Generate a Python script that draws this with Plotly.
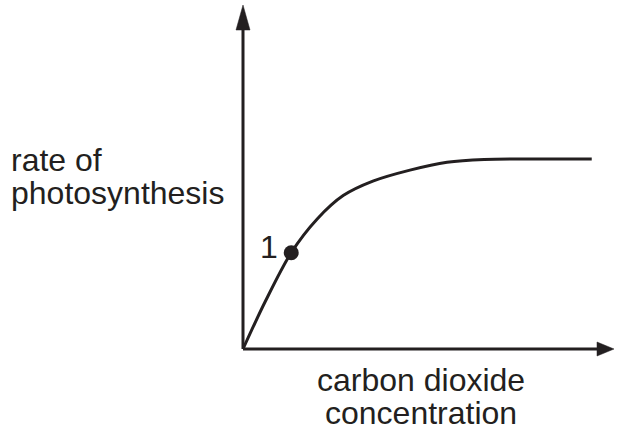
import plotly.graph_objects as go

# Data (arbitrary units: x = CO2 concentration, y = rate of photosynthesis)
co2 = [0, 6, 13, 20, 27, 35, 45, 55, 65, 94]
rate = [0, 13.8, 28, 37.8, 44.6, 48.8, 52.0, 54.3, 55.1, 55.2]
point_x = [13]
point_y = [28]
point_label = ["1"]

x_title = ["carbon dioxide", "concentration"]
y_title = ["rate of", "photosynthesis"]

INK = "#231f20"
W, H = 618, 434
L, R, T, B = 243, 4, 5, 85
pw, ph = W - L - R, H - T - B


def px_x(p):
    return (p - L) / pw


def px_y(p):
    return (H - B - p) / ph


FONT = dict(family="Liberation Sans, Arial, sans-serif", size=32, color=INK)

fig = go.Figure()
fig.add_trace(go.Scatter(x=co2, y=rate, mode="lines",
                         line=dict(color=INK, width=3, shape="spline", smoothing=0.9),
                         hoverinfo="skip", showlegend=False))
fig.add_trace(go.Scatter(x=point_x, y=point_y, mode="markers",
                         marker=dict(color=INK, size=15),
                         showlegend=False))

shapes = [
    dict(type="line", xref="paper", yref="paper", x0=0, y0=0, x1=0, y1=px_y(20),
         line=dict(color=INK, width=3)),
    dict(type="line", xref="paper", yref="paper", x0=0, y0=0, x1=px_x(600), y1=0,
         line=dict(color=INK, width=3)),
    dict(type="path", xref="paper", yref="paper",
         path=f"M {px_x(243)},{px_y(5)} L {px_x(236)},{px_y(30)} L {px_x(250)},{px_y(30)} Z",
         fillcolor=INK, line=dict(color=INK, width=0.5)),
    dict(type="path", xref="paper", yref="paper",
         path=f"M {px_x(614)},{px_y(349)} L {px_x(597)},{px_y(342)} L {px_x(597)},{px_y(356)} Z",
         fillcolor=INK, line=dict(color=INK, width=0.5)),
]

annotations = [
    dict(text=y_title[0], xref="paper", yref="paper", x=px_x(9), y=px_y(160),
         xanchor="left", yanchor="middle", showarrow=False, font=FONT),
    dict(text=y_title[1], xref="paper", yref="paper", x=px_x(9), y=px_y(193),
         xanchor="left", yanchor="middle", showarrow=False, font=FONT),
    dict(text=x_title[0], xref="paper", yref="paper", x=px_x(421), y=px_y(380),
         xanchor="center", yanchor="middle", showarrow=False, font=FONT),
    dict(text=x_title[1], xref="paper", yref="paper", x=px_x(421), y=px_y(413),
         xanchor="center", yanchor="middle", showarrow=False, font=FONT),
    dict(text=point_label[0], x=point_x[0], y=point_y[0], xref="x", yref="y",
         xanchor="center", yanchor="middle", xshift=-22, yshift=6,
         showarrow=False, font=FONT),
]

fig.update_layout(
    width=W, height=H,
    margin=dict(l=L, r=R, t=T, b=B),
    paper_bgcolor="white", plot_bgcolor="white",
    xaxis=dict(range=[0, 100], visible=False, fixedrange=True),
    yaxis=dict(range=[0, 100], visible=False, fixedrange=True),
    shapes=shapes, annotations=annotations,
    showlegend=False,
)

fig.write_html("out.html", config={"displayModeBar": False},
               post_script="document.body.style.margin='0';")
